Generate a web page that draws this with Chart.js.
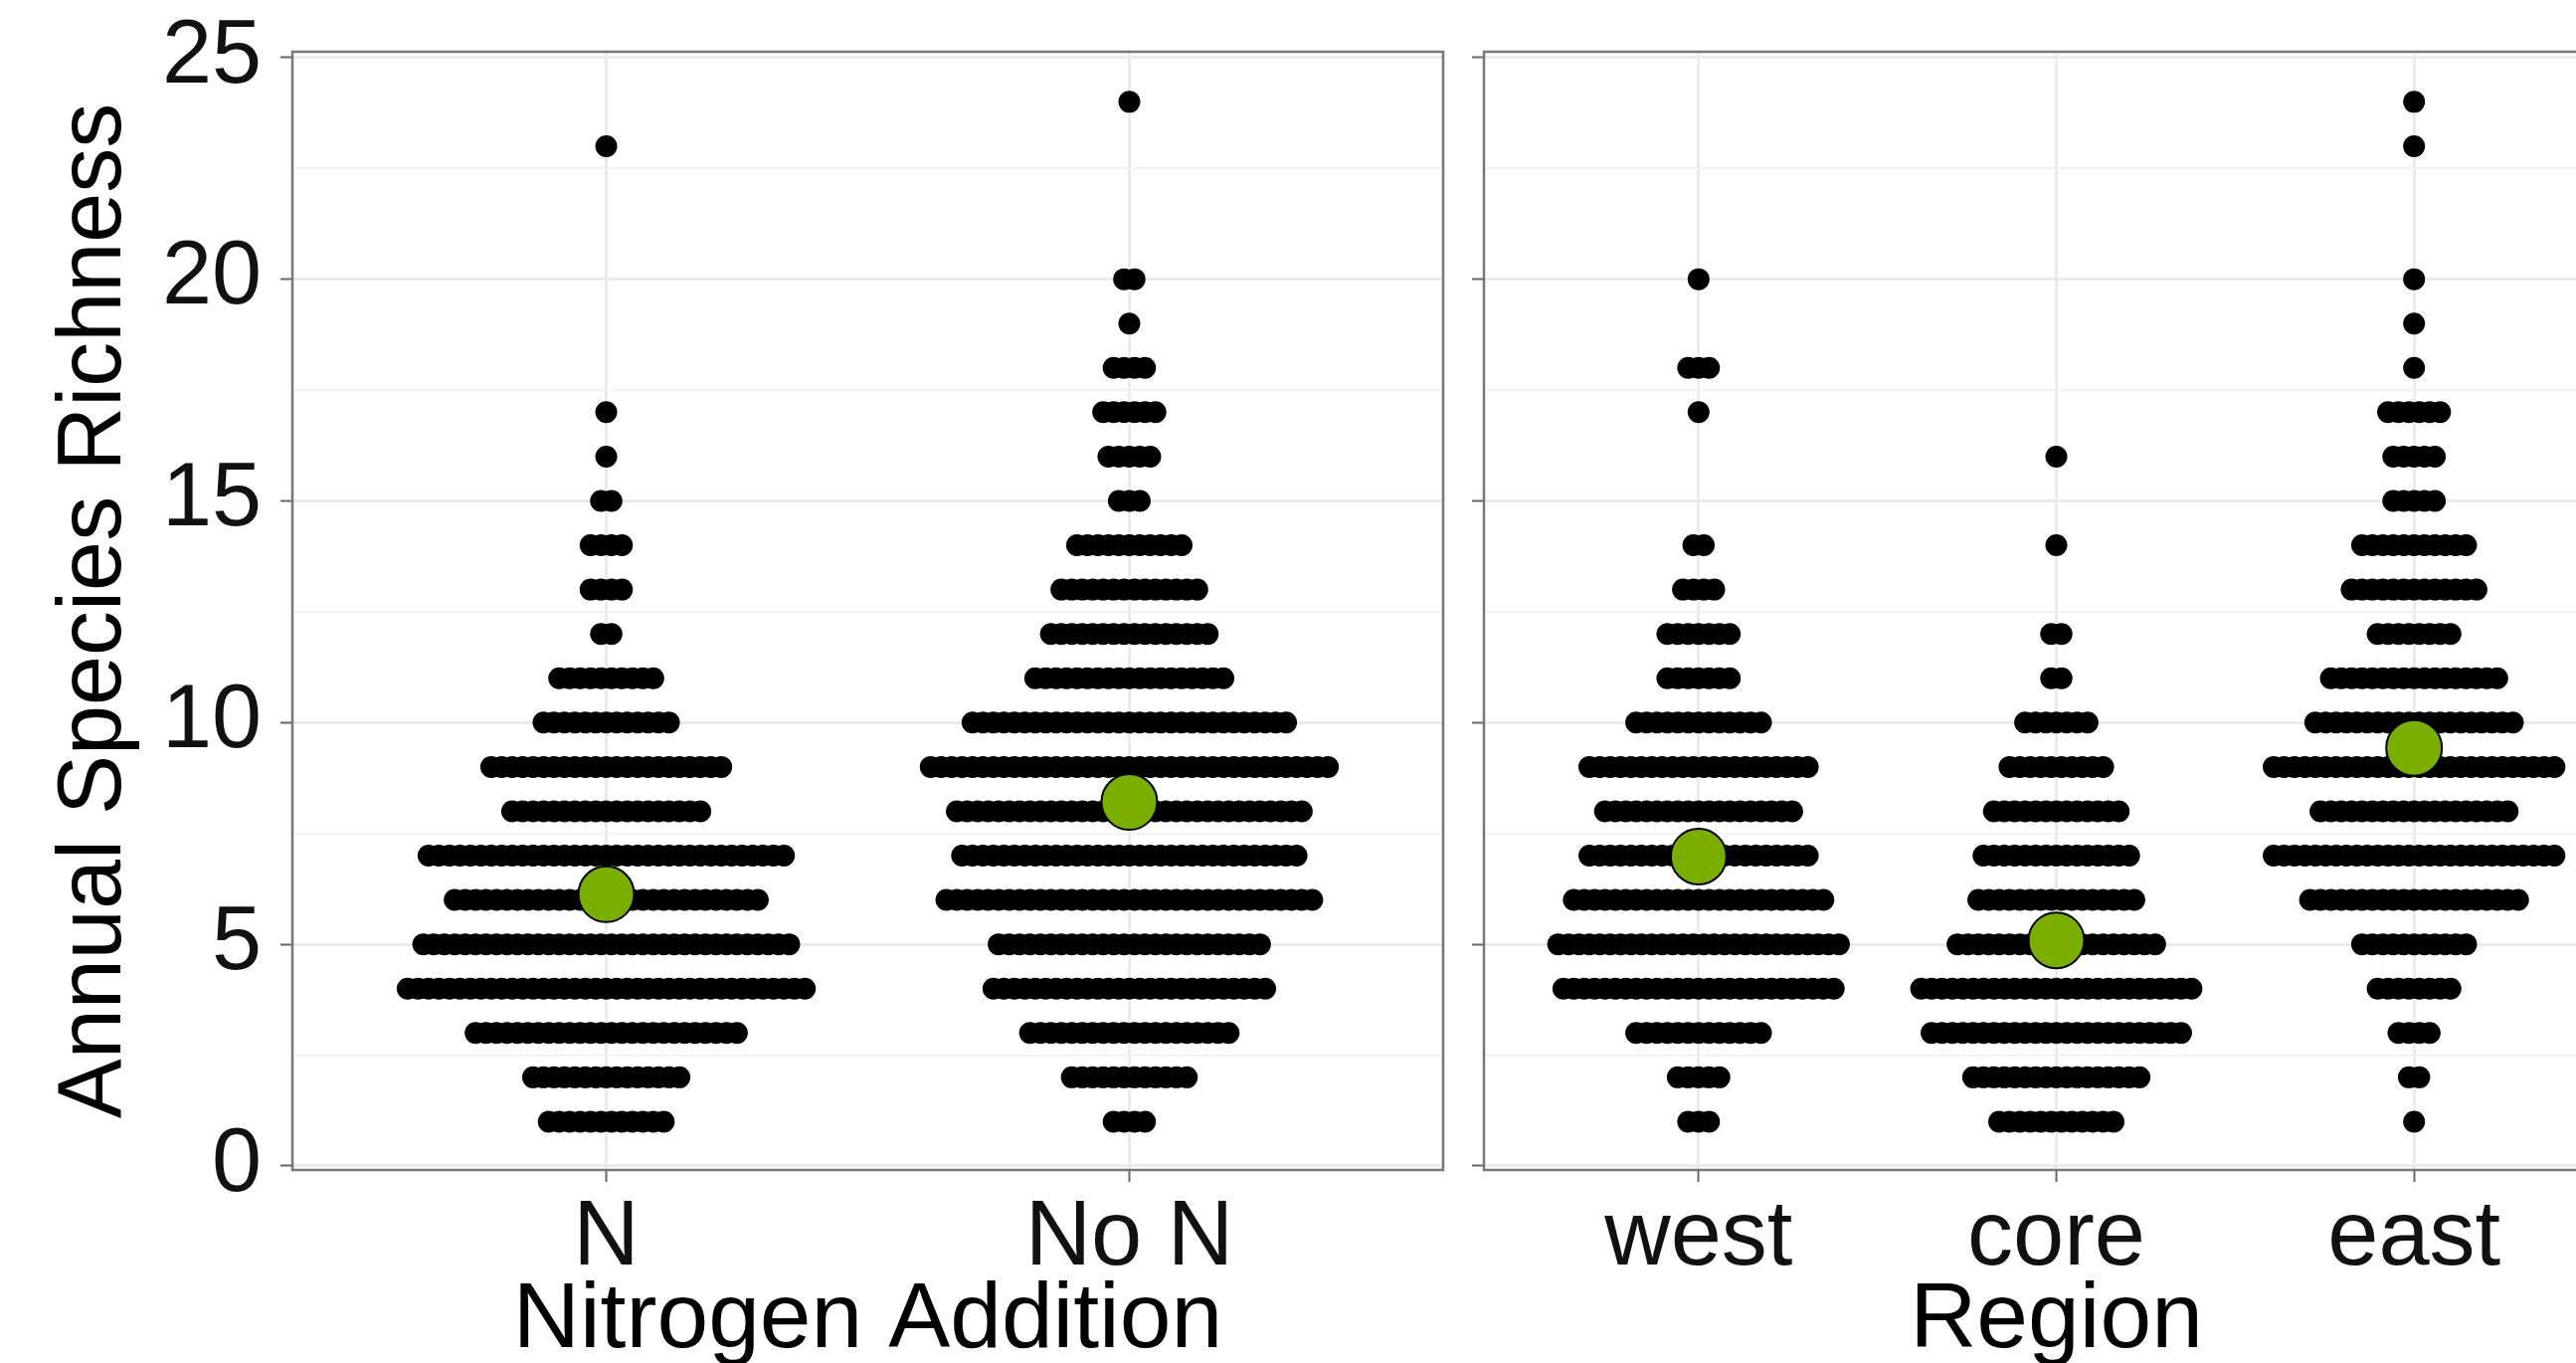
<!DOCTYPE html>
<html>
<head>
<meta charset="utf-8">
<script src="https://cdn.jsdelivr.net/npm/chart.js@4"></script>
<style>
  html, body { margin: 0; padding: 0; background: #fff; overflow: hidden; width: 2590px; height: 1370px; }
  #left  { position: absolute; left: 0; top: 0; width: 1481px; height: 1370px; }
  #right { position: absolute; left: 1462px; top: 0; width: 1211px; height: 1370px; }
</style>
</head>
<body>
<div id="left"><canvas id="c1"></canvas></div>
<div id="right"><canvas id="c2"></canvas></div>
<script>
// ---------------- DATA ----------------
const richness = [1,2,3,4,5,6,7,8,9,10,11,12,13,14,15,16,17,18,19,20,21,22,23,24];

const nitrogenCategories = ['N', 'No N'];
const regionCategories = ['west', 'core', 'east'];

// number of plots at each richness value (index = richness - 1)
const countsN    = [12,15,26,39,36,30,35,19,23,13,10, 2, 4, 4, 2, 1, 1, 0, 0, 0, 0, 0, 1, 0];
const countsNoN  = [ 4,12,20,27,26,36,33,34,39,31,19,16,14,11, 3, 5, 6, 4, 1, 2, 0, 0, 0, 1];
const countsWest = [ 3, 5,13,27,28,25,22,19,22,13, 7, 7, 4, 2, 0, 0, 1, 3, 0, 1, 0, 0, 0, 0];
const countsCore = [12,17,25,27,20,16,15,13,10, 7, 2, 2, 0, 1, 0, 1, 0, 0, 0, 0, 0, 0, 0, 0];
const countsEast = [ 1, 2, 4, 8,11,21,28,19,28,20,17, 8,13,11, 5, 5, 6, 1, 1, 1, 0, 0, 1, 1];

const meansNitrogen = [6.13, 8.21];
const meansRegion   = [6.98, 5.09, 9.43];

const yMajorTicks = [0, 5, 10, 15, 20, 25];
const yMinorTicks = [2.5, 7.5, 12.5, 17.5, 22.5];

const yAxisTitle = 'Annual Species Richness';
const xTitleLeft = 'Nitrogen Addition';
const xTitleRight = 'Region';

// ---------------- STYLE / LAYOUT ----------------
const FONT = "'Liberation Sans', Arial, Helvetica, sans-serif";
const Y_MIN = -0.09, Y_MAX = 25.13;
const DOT_R = 11, DOT_SPACING_PX = 10.5;
const MEAN_R = 28, MEAN_COLOR = '#7AAF00';
const PANEL_TOP = 52, PANEL_BOTTOM = 1176, CANVAS_H = 1370;

const allYTicks = yMajorTicks.concat(yMinorTicks).sort((a, b) => a - b);
const isMajor = v => yMajorTicks.indexOf(v) !== -1;

function swarmPoints(counts, catIndex, spacing) {
  const pts = [];
  counts.forEach((n, k) => {
    const y = richness[k];
    for (let i = 0; i < n; i++) {
      pts.push({ x: catIndex + (i - (n - 1) / 2) * spacing, y: y });
    }
  });
  return pts;
}

const panelBorder = {
  id: 'panelBorder',
  afterDraw(chart) {
    const a = chart.chartArea, ctx = chart.ctx;
    ctx.save();
    ctx.strokeStyle = '#777777';
    ctx.lineWidth = 2.5;
    ctx.strokeRect(a.left, a.top, a.right - a.left, a.bottom - a.top);
    ctx.restore();
  }
};

function makeChart(canvasId, cats, countsList, means, opt) {
  const xMin = 0.4, xMax = cats.length + 0.6;
  const unitPx = opt.panelWidth / (xMax - xMin);
  const spacing = DOT_SPACING_PX / unitPx;

  const dotPoints = [];
  countsList.forEach((c, i) => swarmPoints(c, i + 1, spacing).forEach(p => dotPoints.push(p)));
  const meanPoints = means.map((m, i) => ({ x: i + 1, y: m }));

  return new Chart(document.getElementById(canvasId), {
    type: 'scatter',
    data: {
      datasets: [
        {
          label: 'mean', data: meanPoints, order: 0,
          pointRadius: MEAN_R, pointHoverRadius: MEAN_R,
          pointBackgroundColor: MEAN_COLOR, pointBorderColor: '#000', pointBorderWidth: 2
        },
        {
          label: 'plots', data: dotPoints, order: 1,
          pointRadius: DOT_R, pointHoverRadius: DOT_R,
          pointBackgroundColor: '#000', pointBorderWidth: 0
        }
      ]
    },
    options: {
      animation: false,
      responsive: true,
      maintainAspectRatio: false,
      layout: { padding: { top: PANEL_TOP, right: opt.padRight, left: 0, bottom: 0 } },
      plugins: { legend: { display: false }, tooltip: { enabled: false } },
      scales: {
        x: {
          type: 'linear', min: xMin, max: xMax,
          afterBuildTicks: s => { s.ticks = cats.map((c, i) => ({ value: i + 1 })); },
          afterFit: s => { s.height = CANVAS_H - PANEL_BOTTOM; s.paddingLeft = 0; s.paddingRight = 0; },
          ticks: {
            callback: v => cats[Math.round(v) - 1],
            color: '#111', padding: 12, maxRotation: 0, autoSkip: false,
            font: { family: FONT, size: 92, lineHeight: 1 }
          },
          grid: { color: '#EBEBEB', lineWidth: 3, tickLength: 12, tickColor: '#666', tickWidth: 2 },
          border: { display: false },
          title: {
            display: true, text: opt.xTitle, color: '#000',
            font: { family: FONT, size: 93, lineHeight: 0.8 },
            padding: { top: 0, bottom: 4 }
          }
        },
        y: {
          type: 'linear', min: Y_MIN, max: Y_MAX,
          afterBuildTicks: s => { s.ticks = allYTicks.map(v => ({ value: v })); },
          afterFit: s => { s.width = opt.yWidth; s.paddingTop = 0; s.paddingBottom = 0; },
          ticks: {
            display: opt.showYLabels,
            callback: v => (isMajor(v) ? String(v) : ''),
            color: '#111', padding: 19,
            font: { family: FONT, size: 90, lineHeight: 1 }
          },
          grid: {
            color: c => (c.tick && isMajor(c.tick.value) ? '#EBEBEB' : '#F2F2F2'),
            lineWidth: c => (c.tick && isMajor(c.tick.value) ? 3 : 2),
            tickLength: 12,
            tickColor: c => (c.tick && isMajor(c.tick.value) ? '#666' : 'rgba(0,0,0,0)'),
            tickWidth: 2
          },
          border: { display: false },
          title: {
            display: opt.showYTitle, text: yAxisTitle, color: '#000',
            font: { family: FONT, size: 90, lineHeight: 1 },
            padding: { top: 51, bottom: 0 }
          }
        }
      }
    },
    plugins: [panelBorder]
  });
}

makeChart('c1', nitrogenCategories, [countsN, countsNoN], meansNitrogen, {
  panelWidth: 1450 - 294, padRight: 12, yWidth: 294,
  showYLabels: true, showYTitle: true, xTitle: xTitleLeft
});

makeChart('c2', regionCategories, [countsWest, countsCore, countsEast], meansRegion, {
  panelWidth: 2643 - 1487, padRight: 9, yWidth: 1487 - 1462,
  showYLabels: false, showYTitle: false, xTitle: xTitleRight
});
</script>
</body>
</html>
